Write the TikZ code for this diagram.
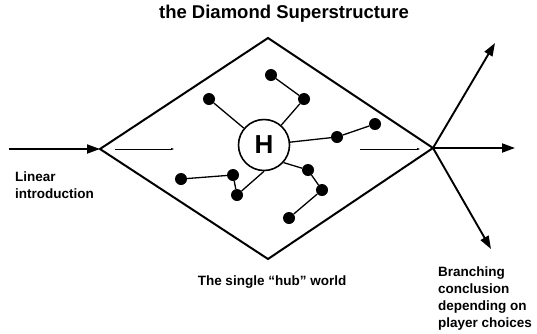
\documentclass[tikz,border=0pt]{standalone}
\usepackage{fontspec}
\setmainfont{Liberation Sans}
\usepackage{xcolor}
\definecolor{ink}{HTML}{000000}
\usepackage{tikz}
\usetikzlibrary{arrows.meta, positioning}

\begin{document}
\begin{tikzpicture}[
    x=1pt, y=-1pt,
    font=\bfseries,
    draw=ink, text=ink,
    bigarrow/.style={-{Triangle[length=13pt, width=9pt]}, line width=1.9pt},
    thinarrow/.style={-{Triangle[length=3pt, width=2pt]}, line width=0.5pt},
    dot/.style={circle, fill=ink, inner sep=0pt, minimum size=12pt},
    link/.style={line width=1.3pt},
    hubnode/.style={circle, draw=ink, line width=1.6pt, fill=white, minimum size=51pt, inner sep=0pt, font=\fontsize{26}{28}\selectfont\bfseries},
    lbl/.style={inner sep=0pt, align=left, font=\fontsize{13.5}{17}\selectfont\bfseries}
]

\useasboundingbox (0,0) rectangle (537,333);

% ── Title ──
\node[font=\fontsize{18.5}{20}\selectfont\bfseries, anchor=base] (title) at (284,18) {the Diamond Superstructure};

% ── Diamond ──
\coordinate (dl) at (100,149);
\coordinate (dt) at (268,38);
\coordinate (dr) at (433,148);
\coordinate (db) at (268,259);
\draw[line width=2pt, line join=miter] (dl) -- (dt) -- (dr) -- (db) -- cycle;

% ── Hub and rooms ──
\node[hubnode] (hub) at (264,145) {H};

\node[dot] (d1) at (271,75) {};
\node[dot] (d2) at (304,99) {};
\node[dot] (d3) at (209,99) {};
\node[dot] (d4) at (337,137) {};
\node[dot] (d5) at (375,124) {};
\node[dot] (d6) at (181,179) {};
\node[dot] (d7) at (233,175) {};
\node[dot] (d8) at (237,195) {};
\node[dot] (d9) at (308,170) {};
\node[dot] (d10) at (322,190) {};
\node[dot] (d11) at (289,218) {};

\draw[link] (hub) -- (d3);
\draw[link] (hub) -- (d2);
\draw[link] (d2) -- (d1);
\draw[link] (hub) -- (d4);
\draw[link] (d4) -- (d5);
\draw[link] (hub.south) -- (d8);
\draw[link] (d8) -- (d7);
\draw[link] (d7) -- (d6);
\draw[link] (hub.-42) -- (d9);
\draw[link] (d9) -- (d10);
\draw[link] (d10) -- (d11);

% ── Flow in ──
\coordinate (in) at (9,149);
\draw[bigarrow] (in) -- (dl);
\coordinate (a1) at (115,149);
\coordinate (a2) at (174,149);
\draw[thinarrow] (a1) -- (a2);
\coordinate (b1) at (360,149);
\coordinate (b2) at (420,149);
\draw[thinarrow] (b1) -- (b2);

% ── Branching out ──
\coordinate (outU) at (495,43);
\coordinate (outR) at (515,148);
\coordinate (outD) at (491,249);
\draw[bigarrow] (dr) -- (outU);
\draw[bigarrow] (dr) -- (outR);
\draw[bigarrow] (dr) -- (outD);

% ── Labels ──
\node[lbl, anchor=north west] (intro) at (15,172) {Linear\\introduction};
\node[lbl, anchor=base] (hubworld) at (272,285) {The single “hub” world};
\node[lbl, anchor=north west] (ending) at (438,267) {Branching\\conclusion\\depending on\\player choices};

\end{tikzpicture}
\end{document}
